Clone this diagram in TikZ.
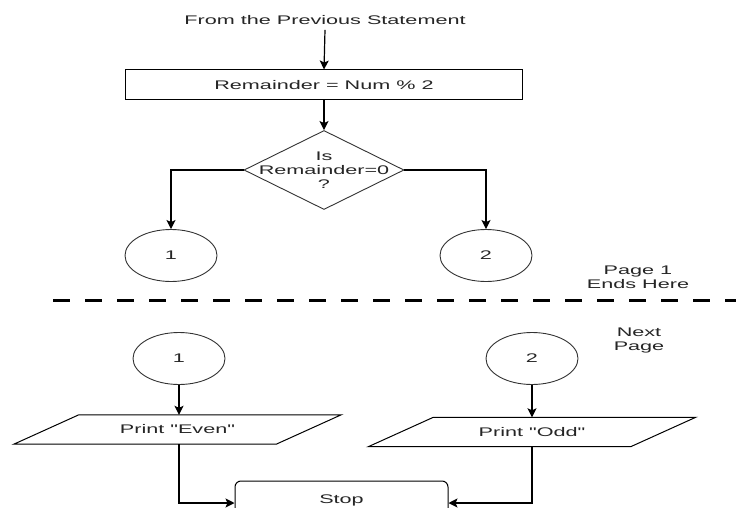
\documentclass[tikz,border=0pt]{standalone}
\usepackage{fontspec}
\setmainfont{Liberation Sans}[FakeStretch=1.73, Ligatures=TeXOff]
\usetikzlibrary{shapes.geometric,arrows.meta}
\definecolor{txt}{HTML}{262626}
\begin{document}
\begin{tikzpicture}[x=1pt,y=-1pt, font=\fontsize{12.5}{14}\selectfont, text=txt,
 box/.style={draw=black, line width=1pt, minimum width=397pt, minimum height=30pt, inner sep=0pt},
 dec/.style={draw=black!80, diamond, line width=0.9pt, minimum width=160pt, minimum height=79pt, inner sep=0pt},
 conn/.style={draw=black!80, ellipse, line width=0.9pt, minimum width=92pt, minimum height=52pt, inner sep=0pt},
 io/.style={minimum width=262pt, minimum height=29pt, inner sep=0pt},
 iodraw/.style={draw=black, line width=1pt},
 term/.style={draw=black, rounded corners=6pt, line width=1pt, minimum width=213pt, minimum height=44pt, inner sep=0pt},
 arr/.style={-{Stealth[length=9pt,width=9pt,inset=2pt]}, line width=1.2pt},
 lbl/.style={align=center, inner sep=0pt}]
\clip (0,0) rectangle (736,508);
\fill[white] (0,0) rectangle (736,508);

\node[lbl] (from) at (325,20) {From the Previous Statement};
\node[box] (rem) at (324,85) {Remainder = Num \% 2};
\node[dec, label={[lbl]center:{Is\\Remainder=0\\?}}] (dia) at (324,170) {};
\node[conn] (c1) at (171,255.5) {1};
\node[conn] (c2) at (486,255.5) {2};
\node[lbl] (p1) at (638,277.5) {Page 1\\Ends Here};
\coordinate (dl1) at (53,300);
\coordinate (dl2) at (740,300);
\draw[line width=3pt, dash pattern=on 17pt off 15pt] (dl1) -- (dl2);
\node[lbl] (np) at (639,340) {Next\\Page};
\node[conn] (d1) at (179,358.5) {1};
\node[conn] (d2) at (532,358.5) {2};
\node[io] (even) at (177.5,429.5) {Print "Even"};
\draw[iodraw] ([xshift=-32.5pt]even.south west) -- ([xshift=-32.5pt]even.south east) -- ([xshift=32.5pt]even.north east) -- ([xshift=32.5pt]even.north west) -- cycle;
\node[io] (odd) at (532,432) {Print "Odd"};
\draw[iodraw] ([xshift=-32.5pt]odd.south west) -- ([xshift=-32.5pt]odd.south east) -- ([xshift=32.5pt]odd.north east) -- ([xshift=32.5pt]odd.north west) -- cycle;
\node[term] (stop) at (341.5,503) {\raisebox{7pt}{Stop}};

\draw[arr] ([yshift=-5pt]from.south) -- (rem.north);
\draw[arr] (rem.south) -- (dia.north);
\draw[arr] (dia.west) -| (c1.north);
\draw[arr] (dia.east) -| (c2.north);
\draw[arr] (d1.south) -- (d1.south |- even.north);
\draw[arr] (d2.south) -- (d2.south |- odd.north);
\draw[arr] (d1.south |- even.south) |- (stop.west);
\draw[arr] (odd.south) |- (stop.east);
\end{tikzpicture}
\end{document}
